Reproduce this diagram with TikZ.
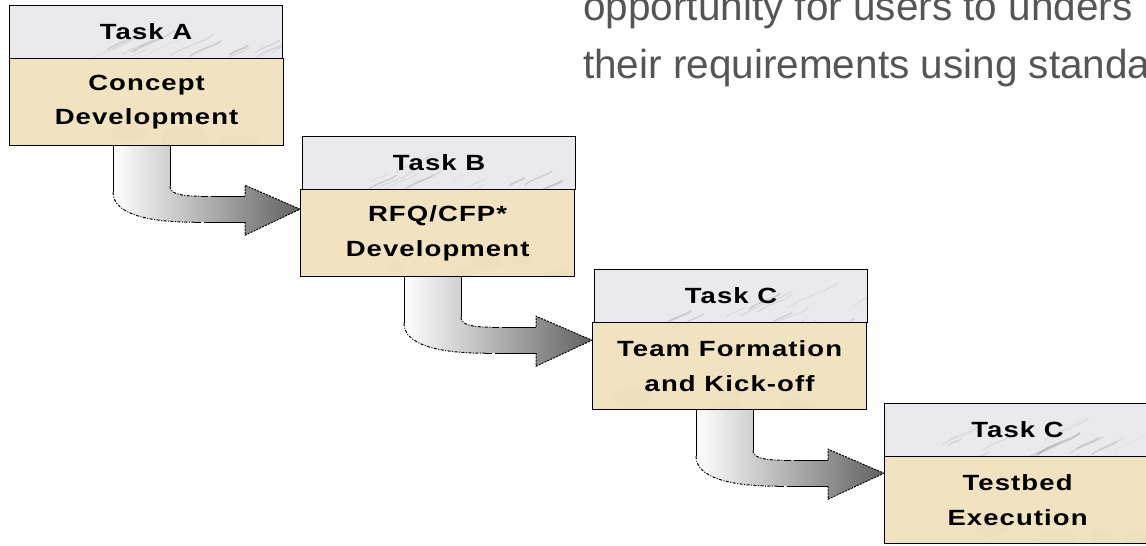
\documentclass[tikz,border=0pt]{standalone}
\usepackage{fontspec}
\setmainfont{Liberation Sans}
\newfontfamily\taskfont{Liberation Sans}[FakeStretch=1.25,LetterSpace=5]
\usetikzlibrary{calc,backgrounds}

\definecolor{marble}{RGB}{234,234,238}
\definecolor{vein}{RGB}{165,165,175}
\definecolor{parchment}{RGB}{241,227,192}
\definecolor{fleck}{RGB}{228,210,170}
\definecolor{leadtext}{RGB}{85,85,85}

% grey streaks of the marble title bars
\newcommand\marbleveins{%
  \begin{scope}[shift={(path picture bounding box.north west)}]
    \foreach \k in {1,...,45}{%
      \pgfmathsetmacro\px{rnd*320-30}
      \pgfmathsetmacro\py{rnd*70}
      \pgfmathsetmacro\lw{0.3+rnd*2.2}
      \pgfmathsetmacro\len{12+rnd*40}
      \pgfmathsetmacro\op{0.15+rnd*0.35}
      \draw[vein, line width=\lw pt, opacity=\op, line cap=round]
        (\px,\py) .. controls +(\len/3,-\len/4) and +(-\len/4,\len/5) .. +(\len,-\len/2);
    }
  \end{scope}}

% faint mottling of the parchment panels
\newcommand\parchmentflecks{%
  \begin{scope}[shift={(path picture bounding box.north west)}]
    \foreach \k in {1,...,25}{%
      \pgfmathsetmacro\px{rnd*280}
      \pgfmathsetmacro\py{rnd*90}
      \pgfmathsetmacro\rr{8+rnd*18}
      \fill[fleck, opacity=.12] (\px,\py) ellipse [x radius=\rr pt, y radius=0.5*\rr pt];
    }
  \end{scope}}

% bent, shaded block arrow from the bottom of one task to the side of the next
\newcommand\flowarrow[2]{%
  \begin{pgfonlayer}{background}
  \coordinate (o) at (#1.south west);
  \coordinate (tipy) at ($(o)+(0,63)$);
  \coordinate (tip) at (#2.west |- tipy);
  \path[left color=white, right color=black!62]
    ($(o)+(104,0)$) -- ($(o)+(104,46)$)
    .. controls ($(o)+(104,68)$) and ($(o)+(140,76)$) .. ($(o)+(185,76)$)
    -- ($(o)+(236,76)$) -- ($(o)+(236,89)$) -- (tip) -- ($(o)+(236,39)$)
    -- ($(o)+(236,50)$) -- ($(o)+(192,50)$)
    .. controls ($(o)+(170,50)$) and ($(o)+(161,47)$) .. ($(o)+(161,40)$)
    -- ($(o)+(161,0)$) -- cycle;
  % stem sides
  \draw[edge] ($(o)+(104,0)$) -- ($(o)+(104,46)$);
  \draw[edge] ($(o)+(161,0)$) -- ($(o)+(161,40)$);
  % curved sides
  \draw[edge, curvedash] ($(o)+(104,46)$)
    .. controls ($(o)+(104,68)$) and ($(o)+(140,76)$) .. ($(o)+(185,76)$);
  \draw[edge, curvedash] ($(o)+(161,40)$)
    .. controls ($(o)+(161,47)$) and ($(o)+(170,50)$) .. ($(o)+(192,50)$);
  % shaft edges: dashed, then solid near the head
  \draw[edge, shaftdash] ($(o)+(185,76)$) -- ($(o)+(196,76)$);
  \draw[edge, shaftdash] ($(o)+(192,50)$) -- ($(o)+(203,50)$);
  \draw[edge] ($(o)+(196,76)$) -- ($(o)+(236,76)$);
  \draw[edge] ($(o)+(203,50)$) -- ($(o)+(236,50)$);
  % head
  \draw[edge, headdash] ($(o)+(236,76)$) -- ($(o)+(236,89)$) -- (tip)
    -- ($(o)+(236,39)$) -- ($(o)+(236,50)$);
  \end{pgfonlayer}}

\tikzset{
  x=1pt, y=-1pt,
  edge/.style={draw=black, line width=1pt},
  curvedash/.style={dash pattern=on 3pt off 1.5pt on 1pt off 1.5pt},
  shaftdash/.style={dash pattern=on 7pt off 3pt},
  headdash/.style={dash pattern=on 2pt off 1.2pt},
  header/.style={draw=black, line width=1.2pt, fill=marble, anchor=north west,
    minimum width=273pt, minimum height=53pt, inner sep=0pt,
    path picture={\marbleveins},
    font=\taskfont\bfseries\fontsize{22}{26}\selectfont},
  body/.style={draw=black, line width=1.2pt, fill=parchment, anchor=north west,
    minimum width=274pt, minimum height=87pt, inner sep=0pt, align=center,
    path picture={\parchmentflecks},
    font=\taskfont\bfseries\fontsize{22}{35}\selectfont},
  lead/.style={anchor=base west, inner sep=0pt, text=leadtext,
    font=\fontsize{40.5}{50}\selectfont},
}

\begin{document}
\begin{tikzpicture}
  \pgfmathsetseed{11}
  \useasboundingbox (0,0) rectangle (1146,546);

  \node[lead] (lineone) at (583,20) {opportunity for users to unders};
  \node[lead] (linetwo) at (583,78) {their requirements using standa};

  \node[header] (ha) at (9,5)   {Task A};
  \node[body]   (ba) at (9,58)  {Concept\\Development};

  \node[header] (hb) at (302,136) {Task B};
  \node[body]   (bb) at (300,189) {RFQ/CFP*\\Development};

  \node[header] (hc) at (594,269) {Task C};
  \node[body]   (bc) at (592,322) {Team Formation\\and Kick-off};

  \node[header, minimum width=266pt] (hd) at (884,403) {Task C};
  \node[body, minimum width=266pt]   (bd) at (884,456) {Testbed\\Execution};

  \flowarrow{ba}{bb}
  \flowarrow{bb}{bc}
  \flowarrow{bc}{bd}
\end{tikzpicture}
\end{document}
